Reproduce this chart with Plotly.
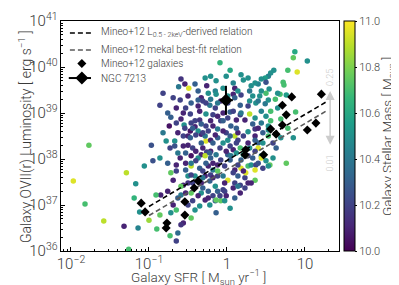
import numpy as np
import plotly.graph_objects as go

# Galaxy sample: log10 SFR [Msun/yr], log10 L_OVII(r) [erg/s], log10 stellar mass [Msun]
log_sfr = [0.87,0.85,1.03,0.90,0.78,0.60,0.56,0.53,0.49,0.44,0.50,0.40,0.36,0.31,0.72,0.73,0.54,0.68,0.76,
           0.50,0.42,0.62,0.33,0.29,0.37,0.49,0.56,0.65,0.29,0.44,0.36,0.50,0.56,0.44,0.33,0.53,0.88,0.36,0.69,
           0.53,0.18,0.21,-0.09,-0.14,-0.05,-0.21,-0.15,0.10,0.29,0.44,0.65,0.53,0.40,0.18,0.08,0.17,0.27,
           0.23,0.17,0.04,-0.15,-0.22,-0.08,0.05,0.10,0.14,0.27,0.36,0.40,0.29,0.17,0.40,0.01,-0.12,-0.09,-0.21,0.01,0.08,
           -0.59,-0.62,-0.54,-0.49,-0.82,-0.86,-0.33,-0.26,-0.28,-0.72,-0.59,-0.47,-0.35,-0.55,-0.74,-0.46,-0.41,-0.35,
           -0.33,-0.56,-0.50,-0.47,-0.67,-0.78,-0.97,-1.77,-0.86,-0.50,-0.33,-0.27,-0.26,-0.41,-0.24,-0.37,-0.31,-0.21,
           -0.14,-0.08,0.10,-0.41,-0.27,-0.21,0.08,0.18,-0.05,-0.33,-0.54,-0.63,-0.37,-0.24,-0.12,-0.01,
           -0.47,-0.40,-0.28,-0.21,0.14,-0.67,-0.33,0.04,-0.60,-0.46,-0.37,-0.28,-0.21,-0.08,0.05,0.18,0.27,
           -0.72,-0.65,-0.46,-0.35,-0.24,-0.18,-0.03,0.10,0.18,0.27,-0.69,-0.56,-0.50,-0.41,-0.28,-0.22,-0.12,0.01,0.14,0.23,
           -0.85,-0.76,-0.59,-0.46,-0.33,-0.24,-0.18,-0.12,-0.03,0.08,0.17,-0.63,-0.44,-0.28,-0.22,-0.15,-0.08,0.04,
           -0.69,-0.86,-0.50,-0.41,-0.56,-0.46,-0.35,-0.63,-0.73,-0.65,
           -1.97,-1.82,-1.58,-1.32,-1.14,-1.29,-1.17,-1.19,-1.12,-1.00,-0.90,-0.91,-0.95,-1.06,-1.26,-0.59,-0.72,-0.65,-0.50,-0.59,
           -0.22,0.12,0.23,0.36,0.44,0.50,0.55,0.76,-0.18,0.04,0.31,0.37,-0.21,-0.12,0.08,0.24,0.36,-0.03,0.17,-0.05,
           -0.14,-0.03,0.40,0.36,0.44,0.46,0.53,0.36,0.53,
           -0.44,-0.31,-0.18,-0.05,0.12,-0.53,-0.40,-0.14,-0.01,0.21,-0.53,-0.40,-0.27,-0.12,0.14,-0.53,-0.31,0.21,
           -0.44,-0.33,-0.15,0.10,0.27,-0.31,-0.37,-0.09,0.10,-0.14,-0.53,-0.65,-0.46,-0.18,-0.05,0.12,0.01,-0.27,
           -0.15,-0.05,0.12,
           -0.60,-0.76,-0.56,-0.65,-0.82,-0.73,-0.63,-0.56,-0.76,-0.65,-0.46,-0.05,0.33,0.46,0.59,0.63,0.59,0.69,
           0.78,0.85,0.46,0.40,0.21,0.04,0.27,-0.46,-0.18,-0.31,-0.53,-0.24,-0.01,0.14,0.23,0.31,-0.44,-0.31,
           -0.18,0.01,-0.12,-0.37,-0.27,-0.12,0.01,0.14,0.08,-0.01,0.27,0.04,-0.37,-0.50,-0.69]
log_lum = [40.33,40.20,40.13,39.89,39.93,39.93,39.87,39.80,39.76,39.74,39.67,39.63,39.65,39.59,39.67,39.61,39.52,39.41,39.39,
           39.43,39.37,39.30,39.37,39.26,39.22,39.20,39.04,39.11,38.98,39.04,38.89,38.93,38.83,38.78,38.76,38.72,39.02,38.65,38.87,
           38.63,39.83,39.72,40.09,39.70,39.54,39.80,39.48,39.54,39.48,39.48,39.43,39.28,39.26,39.39,39.41,39.17,39.15,
           38.85,38.96,39.02,39.11,39.17,38.83,38.72,38.50,38.57,38.59,38.50,38.35,38.24,38.24,38.24,38.41,38.46,38.24,38.17,38.09,38.20,
           39.74,39.57,39.63,39.54,39.43,39.17,39.33,39.59,39.76,38.91,38.87,38.98,39.04,38.74,38.72,38.78,38.70,38.85,
           38.54,38.50,38.50,38.61,38.39,38.39,38.30,38.30,38.02,38.30,38.09,38.39,38.15,39.63,39.43,39.28,39.26,39.30,
           39.41,39.26,39.33,38.83,38.98,38.83,39.04,39.00,38.83,38.76,38.67,38.57,38.61,38.61,38.65,38.57,
           38.46,38.52,38.50,38.41,38.41,38.28,38.35,38.28,38.02,38.07,38.02,38.07,38.02,37.98,38.07,37.98,38.07,
           37.70,37.74,37.85,37.80,37.85,37.76,37.85,37.76,37.80,37.85,37.54,37.43,37.63,37.63,37.63,37.52,37.63,37.54,37.63,37.59,
           37.22,37.30,37.41,37.26,37.26,37.30,37.20,37.30,37.30,37.37,37.26,37.15,37.09,37.11,37.00,37.09,37.09,36.93,
           37.00,36.78,37.00,36.89,36.61,36.72,36.98,36.39,36.33,36.22,
           37.52,37.02,36.65,36.54,36.50,37.70,37.46,37.15,36.85,36.67,36.48,37.22,37.96,37.85,36.04,36.57,36.83,36.89,37.48,37.22,
           38.13,38.13,38.20,38.17,38.07,37.96,37.87,37.91,37.91,37.98,37.87,37.87,37.65,37.74,37.70,37.70,37.54,37.48,37.43,37.33,
           37.11,37.09,37.91,37.76,38.02,38.35,38.50,38.41,37.85,
           38.24,38.24,38.35,38.35,38.35,38.13,38.17,38.09,38.17,38.09,37.91,37.96,37.91,37.87,37.87,37.76,37.74,37.74,
           37.48,37.48,37.41,37.48,37.48,37.37,37.20,37.20,37.15,36.83,39.11,39.11,39.22,38.96,39.00,38.85,39.22,38.72,
           38.52,38.61,38.67,
           39.28,39.00,39.00,38.78,38.57,38.24,38.13,38.28,37.91,37.87,37.65,37.63,38.02,37.80,38.02,38.24,38.35,38.46,
           38.67,38.46,38.57,38.67,38.50,38.50,38.35,37.91,37.59,37.59,37.26,37.15,37.20,37.41,37.37,37.48,38.67,38.57,
           38.72,38.89,38.93,39.15,39.22,39.22,39.37,39.48,39.65,39.80,39.76,39.93,39.48,39.37,39.33]
log_mass = [10.6,10.75,10.5,10.95,10.7,10.5,10.5,10.45,10.55,10.5,10.25,10.45,10.5,10.5,10.7,10.7,10.5,10.7,10.55,
            10.7,10.5,10.7,10.5,10.5,10.5,10.4,10.7,10.5,10.9,10.45,10.5,10.5,10.7,10.4,10.3,10.5,10.7,10.15,10.7,
            10.5,10.5,10.5,10.65,10.5,10.5,10.5,10.45,10.1,10.4,10.5,10.5,10.5,10.4,10.2,10.1,10.3,10.2,
            10.1,10.2,10.3,10.2,10.4,10.2,10.3,10.9,10.1,10.5,10.1,10.3,10.5,10.7,10.95,10.5,10.3,10.2,10.1,10.3,10.1,
            10.15,10.4,10.1,10.95,10.2,10.2,10.1,10.1,10.5,10.3,10.1,10.2,10.1,10.5,10.05,10.2,10.1,10.15,
            10.1,10.2,10.1,10.05,10.5,10.5,10.25,10.75,10.5,10.1,10.1,10.95,10.2,10.3,10.5,10.3,10.2,10.4,
            10.5,10.1,10.3,10.2,10.5,10.1,10.2,10.4,10.3,10.3,10.2,10.1,10.5,10.2,10.4,10.2,
            10.3,10.2,10.4,10.1,10.2,10.25,10.3,10.2,10.1,10.05,10.5,10.9,10.3,10.2,10.4,10.3,10.2,
            10.75,10.2,10.9,10.3,10.1,10.4,10.2,10.1,10.95,10.7,10.1,10.1,10.5,10.5,10.1,10.3,10.2,10.95,10.3,10.2,
            10.1,10.1,10.75,10.75,10.5,10.3,10.2,10.3,10.2,10.1,10.1,10.3,10.2,10.1,10.5,10.3,10.75,10.5,
            10.1,10.75,10.2,10.5,10.1,10.75,10.5,10.35,10.7,10.2,
            10.95,10.7,10.9,10.1,10.45,10.9,10.5,10.65,10.5,10.85,10.7,10.7,10.25,10.5,10.7,10.15,10.5,10.7,10.15,10.4,
            10.3,10.5,10.3,10.2,10.5,10.5,10.75,10.75,10.1,10.3,10.5,10.2,10.2,10.75,10.2,10.95,10.75,10.1,10.2,10.2,
            10.75,10.5,10.25,10.95,10.95,10.5,10.7,10.3,10.5,
            10.2,10.1,10.3,10.5,10.2,10.3,10.1,10.4,10.1,10.5,10.1,10.2,10.3,10.1,10.2,10.3,10.2,10.1,
            10.2,10.1,10.5,10.2,10.1,10.3,10.1,10.2,10.3,10.3,10.2,10.1,10.3,10.2,10.1,10.1,10.2,10.2,
            10.1,10.1,10.3,
            10.2,10.3,10.1,10.2,10.4,10.2,10.4,10.1,10.3,10.1,10.2,10.4,10.3,10.2,10.5,10.3,10.2,10.5,
            10.7,10.5,10.3,10.1,10.2,10.3,10.1,10.4,10.1,10.4,10.1,10.1,10.1,10.4,10.2,10.1,10.3,10.2,
            10.1,10.2,10.1,10.1,10.2,10.4,10.5,10.5,10.45,10.5,10.5,10.6,10.3,10.1,10.2]

# Mineo+12 galaxies (log10 values)
mineo_log_sfr = [-1.10,-1.05,-0.77,-0.78,-0.54,-0.54,-0.42,-0.37,0.24,0.23,0.47,0.56,0.63,0.71,0.71,0.76,0.83,1.21,1.14,1.03]
mineo_log_lum = [37.04,36.85,36.61,36.50,37.07,36.78,37.37,37.52,38.20,38.09,38.09,38.65,38.54,38.74,39.17,38.96,39.35,39.41,38.78,38.63]

# Relations: L = norm * SFR
relation_sfr = [0.1, 19.0]
norm_l052 = 9.3e37
norm_mekal = 5.9e37

# NGC 7213
ngc_sfr, ngc_sfr_lo, ngc_sfr_hi = 0.97, 0.81, 1.19
ngc_lum, ngc_lum_lo, ngc_lum_hi = 1.9e39, 9.1e38, 3.9e39

# abundance arrow annotation
arrow_sfr = 21.0
arrow_lum = [3.0e39, 1.9e38]
arrow_labels = ["0.25", "0.01"]
arrow_label_lum = [5.8e39, 8.0e37]

legend_labels = ["Mineo+12 L<sub>0.5 - 2keV</sub>-derived relation",
                 "Mineo+12 mekal best-fit relation",
                 "Mineo+12 galaxies",
                 "NGC 7213"]
x_title = "Galaxy SFR [ M<sub>sun</sub> yr<sup>−1</sup> ]"
y_title = "Galaxy OVII(r) Luminosity [ erg s<sup>−1</sup> ]"
cbar_title = "Galaxy Stellar Mass [ M<sub>sun</sub> ]"
cbar_ticks = [10.0, 10.2, 10.4, 10.6, 10.8, 11.0]

FONT = "Roboto"
TXT = "#3a3a3a"
W = 300

sfr = 10 ** np.array(log_sfr)
lum = 10 ** np.array(log_lum)

fig = go.Figure()
fig.add_trace(go.Scatter(
    x=sfr, y=lum, mode="markers", showlegend=False,
    marker=dict(size=5.5, color=log_mass, colorscale="Viridis", cmin=10.0, cmax=11.0,
                line=dict(width=0),
                colorbar=dict(
                    x=1.018, xanchor="left", xpad=0, ypad=0, y=0.5, yanchor="middle",
                    len=1.0, lenmode="fraction",
                    thickness=11, outlinewidth=1, outlinecolor="black",
                    tickvals=cbar_ticks, ticktext=[f"{t:.1f}" for t in cbar_ticks],
                    ticks="outside", ticklen=2, tickcolor="black",
                    tickfont=dict(family=FONT, size=11, color=TXT, weight=W),
                )),
))

rs = np.array(relation_sfr)
DASH = "5px,3px"
fig.add_trace(go.Scatter(x=rs, y=norm_l052 * rs, mode="lines", showlegend=False,
                         line=dict(color="black", width=1.6, dash=DASH)))
fig.add_trace(go.Scatter(x=rs, y=norm_mekal * rs, mode="lines", showlegend=False,
                         line=dict(color="#5a5a5a", width=1.6, dash=DASH)))
fig.add_trace(go.Scatter(x=10 ** np.array(mineo_log_sfr), y=10 ** np.array(mineo_log_lum),
                         mode="markers", showlegend=False,
                         marker=dict(symbol="diamond", size=7, color="black")))
fig.add_trace(go.Scatter(
    x=[ngc_sfr], y=[ngc_lum], mode="markers", showlegend=False,
    marker=dict(symbol="diamond", size=10, color="black"),
    error_x=dict(type="data", symmetric=False, array=[ngc_sfr_hi - ngc_sfr],
                 arrayminus=[ngc_sfr - ngc_sfr_lo], color="black", thickness=2, width=0),
    error_y=dict(type="data", symmetric=False, array=[ngc_lum_hi - ngc_lum],
                 arrayminus=[ngc_lum - ngc_lum_lo], color="black", thickness=2, width=0),
))

# ---- custom legend drawn on an overlay axis (0..1 in both directions)
row_y = [0.948, 0.874, 0.815, 0.752]
sym_x0, sym_x1, sym_xc, txt_x = 0.032, 0.118, 0.075, 0.137
fig.add_trace(go.Scatter(x=[sym_x0, sym_x1], y=[row_y[0]] * 2, mode="lines", xaxis="x2", yaxis="y2",
                         showlegend=False, hoverinfo="skip", line=dict(color="black", width=1.6, dash=DASH)))
fig.add_trace(go.Scatter(x=[sym_x0, sym_x1], y=[row_y[1]] * 2, mode="lines", xaxis="x2", yaxis="y2",
                         showlegend=False, hoverinfo="skip", line=dict(color="#5a5a5a", width=1.6, dash=DASH)))
fig.add_trace(go.Scatter(x=[sym_xc], y=[row_y[2]], mode="markers", xaxis="x2", yaxis="y2",
                         showlegend=False, hoverinfo="skip",
                         marker=dict(symbol="diamond", size=7, color="black")))
fig.add_trace(go.Scatter(x=[sym_x0 - 0.004, sym_x1 - 0.01], y=[row_y[3]] * 2, mode="lines", xaxis="x2", yaxis="y2",
                         showlegend=False, hoverinfo="skip", line=dict(color="black", width=2)))
fig.add_trace(go.Scatter(x=[sym_xc], y=[row_y[3]], mode="markers", xaxis="x2", yaxis="y2",
                         showlegend=False, hoverinfo="skip",
                         marker=dict(symbol="diamond", size=10, color="black")))
for lab, ry in zip(legend_labels, row_y):
    fig.add_annotation(x=txt_x, y=ry, xref="paper", yref="paper", text=lab, showarrow=False,
                       xanchor="left", yanchor="middle",
                       font=dict(family=FONT, size=10, color=TXT, weight=W))

# axis / colorbar titles as annotations (exact placement)
fig.add_annotation(x=0.493, y=-0.112, xref="paper", yref="paper", text=x_title, showarrow=False,
                   xanchor="center", yanchor="middle", font=dict(family=FONT, size=13.5, color=TXT, weight=W))
fig.add_annotation(x=-0.1295, y=0.5, xref="paper", yref="paper", text=y_title, showarrow=False,
                   textangle=-90, xanchor="center", yanchor="middle",
                   font=dict(family=FONT, size=14, color=TXT, weight=W))
fig.add_annotation(x=1.176, y=0.5, xref="paper", yref="paper", text=cbar_title, showarrow=False,
                   textangle=-90, xanchor="center", yanchor="middle",
                   font=dict(family=FONT, size=13.5, color=TXT, weight=W))

# grey double arrow
ax_log = np.log10(arrow_sfr)
fig.add_annotation(x=ax_log, y=np.log10(arrow_lum[0]), ax=ax_log, ay=np.log10(arrow_lum[1]),
                   xref="x", yref="y", axref="x", ayref="y", text="", showarrow=True,
                   arrowhead=2, arrowside="end+start", arrowsize=1.2, arrowwidth=1.5,
                   arrowcolor="#cccccc")
for lab, yl in zip(arrow_labels, arrow_label_lum):
    fig.add_annotation(x=ax_log, y=np.log10(yl), xref="x", yref="y", text=lab, showarrow=False,
                       textangle=-90, font=dict(family=FONT, size=9, color="#cccccc", weight=W))

axis_common = dict(type="log", showline=True, mirror=True, linecolor="black", linewidth=1,
                   ticks="inside", ticklen=4, tickcolor="black", showgrid=False, zeroline=False,
                   dtick=1, exponentformat="power", automargin=False,
                   tickfont=dict(family=FONT, size=12, color=TXT, weight=W),
                   minor=dict(ticks="inside", ticklen=2, tickcolor="black", showgrid=False))

fig.update_xaxes(**axis_common, range=[-2.128, 1.436])
fig.update_yaxes(**axis_common, range=[36, 41])

fig.update_layout(
    template="none",
    width=399, height=285,
    margin=dict(l=53, r=68, t=13, b=42, autoexpand=False),
    paper_bgcolor="white", plot_bgcolor="white",
    font=dict(family=FONT, color=TXT),
    showlegend=False,
    xaxis2=dict(domain=[0, 1], range=[0, 1], overlaying="x", visible=False, fixedrange=True,
                automargin=False),
    yaxis2=dict(domain=[0, 1], range=[0, 1], overlaying="y", visible=False, fixedrange=True,
                automargin=False),
)

fig.write_html("out.html")
